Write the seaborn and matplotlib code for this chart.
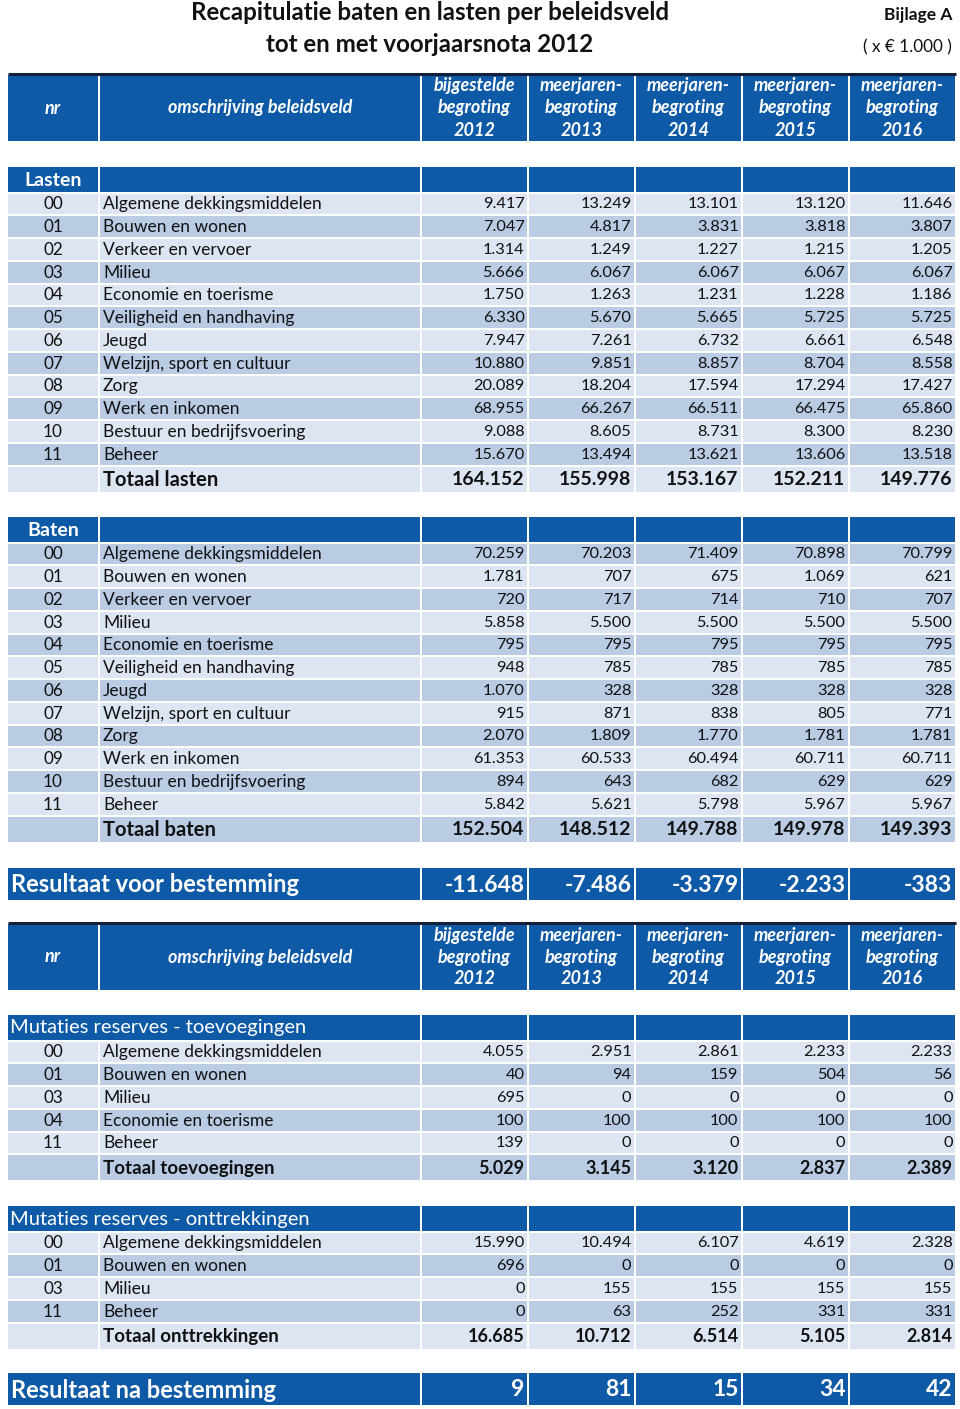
import matplotlib
matplotlib.use("Agg")
import matplotlib.pyplot as plt
from matplotlib.patches import Rectangle
import seaborn as sns

# ---- data (x 1.000 euro) ----
jaren = ["2012", "2013", "2014", "2015", "2016"]
kop_regel1 = ["bijgestelde", "meerjaren-", "meerjaren-", "meerjaren-", "meerjaren-"]

lasten_nr = ["00", "01", "02", "03", "04", "05", "06", "07", "08", "09", "10", "11"]
lasten_omschrijving = ["Algemene dekkingsmiddelen", "Bouwen en wonen", "Verkeer en vervoer",
                       "Milieu", "Economie en toerisme", "Veiligheid en handhaving", "Jeugd",
                       "Welzijn, sport en cultuur", "Zorg", "Werk en inkomen",
                       "Bestuur en bedrijfsvoering", "Beheer"]
lasten_2012 = [9417, 7047, 1314, 5666, 1750, 6330, 7947, 10880, 20089, 68955, 9088, 15670]
lasten_2013 = [13249, 4817, 1249, 6067, 1263, 5670, 7261, 9851, 18204, 66267, 8605, 13494]
lasten_2014 = [13101, 3831, 1227, 6067, 1231, 5665, 6732, 8857, 17594, 66511, 8731, 13621]
lasten_2015 = [13120, 3818, 1215, 6067, 1228, 5725, 6661, 8704, 17294, 66475, 8300, 13606]
lasten_2016 = [11646, 3807, 1205, 6067, 1186, 5725, 6548, 8558, 17427, 65860, 8230, 13518]
totaal_lasten = [164152, 155998, 153167, 152211, 149776]

baten_nr = lasten_nr
baten_omschrijving = lasten_omschrijving
baten_2012 = [70259, 1781, 720, 5858, 795, 948, 1070, 915, 2070, 61353, 894, 5842]
baten_2013 = [70203, 707, 717, 5500, 795, 785, 328, 871, 1809, 60533, 643, 5621]
baten_2014 = [71409, 675, 714, 5500, 795, 785, 328, 838, 1770, 60494, 682, 5798]
baten_2015 = [70898, 1069, 710, 5500, 795, 785, 328, 805, 1781, 60711, 629, 5967]
baten_2016 = [70799, 621, 707, 5500, 795, 785, 328, 771, 1781, 60711, 629, 5967]
totaal_baten = [152504, 148512, 149788, 149978, 149393]

resultaat_voor = [-11648, -7486, -3379, -2233, -383]

toev_nr = ["00", "01", "03", "04", "11"]
toev_omschrijving = ["Algemene dekkingsmiddelen", "Bouwen en wonen", "Milieu",
                     "Economie en toerisme", "Beheer"]
toev_2012 = [4055, 40, 695, 100, 139]
toev_2013 = [2951, 94, 0, 100, 0]
toev_2014 = [2861, 159, 0, 100, 0]
toev_2015 = [2233, 504, 0, 100, 0]
toev_2016 = [2233, 56, 0, 100, 0]
totaal_toev = [5029, 3145, 3120, 2837, 2389]

ontt_nr = ["00", "01", "03", "11"]
ontt_omschrijving = ["Algemene dekkingsmiddelen", "Bouwen en wonen", "Milieu", "Beheer"]
ontt_2012 = [15990, 696, 0, 0]
ontt_2013 = [10494, 0, 155, 63]
ontt_2014 = [6107, 0, 155, 252]
ontt_2015 = [4619, 0, 155, 331]
ontt_2016 = [2328, 0, 155, 331]
totaal_ontt = [16685, 10712, 6514, 5105, 2814]

resultaat_na = [9, 81, 15, 34, 42]

# ---- style ----
sns.set_theme(style="white")
plt.rcParams['font.family'] = ['Lato', 'DejaVu Sans']
BLAUW = "#0f5aa6"
LICHT = "#dce5f1"
DONKER = "#b9cce4"
INKT = "#111111"


def fmt(v):
    return f"{v:,}".replace(",", ".")


fig = plt.figure(figsize=(9.6, 14.09), dpi=100)
ax = fig.add_axes([0, 0, 1, 1])
ax.set_xlim(0, 960)
ax.set_ylim(1409, 0)
ax.axis("off")

# column edges
X0 = 8
NR = (8, 98)
OMS = (100, 420)
COLS = [(422 + i * 107, 422 + i * 107 + 104.5) for i in range(5)]
PITCH = 22.75


def cell(x, y0, h, color):
    ax.add_patch(Rectangle((x[0], y0), x[1] - x[0], h, facecolor=color, edgecolor="none"))


def header_block(top):
    h = 66
    ax.plot([X0, 956], [top - 1, top - 1], color="#15213a", lw=2.2, solid_capstyle="butt")
    for x in [NR, OMS] + COLS:
        cell(x, top, h, BLAUW)
    mid = top + h / 2
    kw = dict(color="white", fontsize=13, fontweight="bold", style="italic",
              ha="center", va="center")
    ax.text(sum(NR) / 2, mid, "nr", **kw)
    ax.text(sum(OMS) / 2, mid, "omschrijving beleidsveld", **kw)
    for x, r1, jaar in zip(COLS, kop_regel1, jaren):
        cx = sum(x) / 2
        ax.text(cx, mid - 22, r1, **kw)
        ax.text(cx, mid, "begroting", **kw)
        ax.text(cx, mid + 22, jaar, **kw)


def section(top, label, nrs, names, cols, totaal, totaal_label, start_dark,
            merged, tot_size):
    hh = 25
    if merged:
        cell((NR[0], OMS[1]), top, hh, BLAUW)
        ax.text(NR[0] + 2, top + hh / 2 + 0.5, label, color="white", fontsize=14.5,
                ha="left", va="center")
    else:
        cell(NR, top, hh, BLAUW)
        cell(OMS, top, hh, BLAUW)
        ax.text(sum(NR) / 2, top + hh / 2 + 0.5, label, color="white", fontsize=14,
                fontweight="bold", ha="center", va="center")
    for x in COLS:
        cell(x, top, hh, BLAUW)
    y = top + hh + 1.5
    for i, (nr, name) in enumerate(zip(nrs, names)):
        kleur = DONKER if (i % 2 == 0) == start_dark else LICHT
        h = PITCH - 1.8
        for x in [NR, OMS] + COLS:
            cell(x, y, h, kleur)
        cy = y + h / 2 + 0.5
        ax.text(sum(NR) / 2, cy, nr, fontsize=12.3, ha="center", va="center", color=INKT)
        ax.text(OMS[0] + 3, cy, name, fontsize=12.5, ha="left", va="center", color=INKT)
        for x, col in zip(COLS, cols):
            ax.text(x[1] - 2, cy, fmt(col[i]), fontsize=11.8, ha="right", va="center",
                    color=INKT)
        y += PITCH
    kleur = DONKER if (len(nrs) % 2 == 0) == start_dark else LICHT
    th = 25
    for x in [NR, OMS] + COLS:
        cell(x, y, th, kleur)
    cy = y + th / 2 + 0.5
    ax.text(OMS[0] + 3, cy, totaal_label, fontsize=tot_size + 0.5, fontweight="bold",
            ha="left", va="center", color=INKT)
    for x, v in zip(COLS, totaal):
        ax.text(x[1] - 2, cy, fmt(v), fontsize=tot_size, fontweight="bold",
                ha="right", va="center", color=INKT)


def resultaat(top, label, values):
    h = 32
    cell((NR[0], OMS[1]), top, h, BLAUW)
    for x in COLS:
        cell(x, top, h, BLAUW)
    cy = top + h / 2 + 1
    ax.text(NR[0] + 3, cy, label, color="white", fontsize=17, fontweight="bold",
            ha="left", va="center")
    for x, v in zip(COLS, values):
        ax.text(x[1] - 2, cy, fmt(v), color="white", fontsize=16.5, fontweight="bold",
                ha="right", va="center")


# titles
ax.text(430, 13, "Recapitulatie baten en lasten per beleidsveld", fontsize=17.4,
        fontweight="bold", ha="center", va="center", color=INKT)
ax.text(430, 45, "tot en met voorjaarsnota 2012", fontsize=17.4,
        fontweight="bold", ha="center", va="center", color=INKT)
ax.text(952, 15, "Bijlage A", fontsize=12.5, fontweight="bold", ha="right",
        va="center", color=INKT)
ax.text(952, 47, "( x € 1.000 )", fontsize=12.3, ha="right", va="center", color=INKT)

header_block(75)
section(167, "Lasten", lasten_nr, lasten_omschrijving,
        [lasten_2012, lasten_2013, lasten_2014, lasten_2015, lasten_2016],
        totaal_lasten, "Totaal lasten", False, False, 14)
section(517, "Baten", baten_nr, baten_omschrijving,
        [baten_2012, baten_2013, baten_2014, baten_2015, baten_2016],
        totaal_baten, "Totaal baten", True, False, 14)
resultaat(868, "Resultaat voor bestemming", resultaat_voor)
header_block(924)
section(1015, "Mutaties reserves - toevoegingen", toev_nr, toev_omschrijving,
        [toev_2012, toev_2013, toev_2014, toev_2015, toev_2016],
        totaal_toev, "Totaal toevoegingen", False, True, 13)
section(1206, "Mutaties reserves - onttrekkingen", ontt_nr, ontt_omschrijving,
        [ontt_2012, ontt_2013, ontt_2014, ontt_2015, ontt_2016],
        totaal_ontt, "Totaal onttrekkingen", False, True, 13)
resultaat(1373, "Resultaat na bestemming", resultaat_na)

fig.savefig("out.png", dpi=100)
